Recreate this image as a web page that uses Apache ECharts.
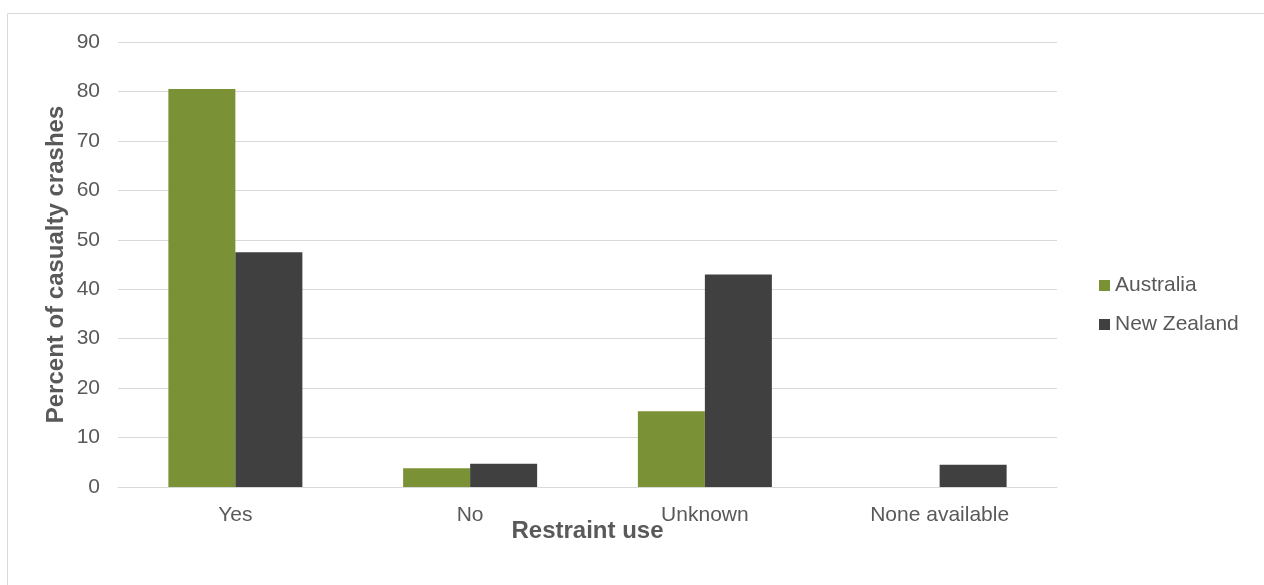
<!DOCTYPE html>
<html>
<head>
<meta charset="utf-8">
<script src="https://cdn.jsdelivr.net/npm/echarts@6/dist/echarts.min.js"></script>
<style>
  html, body { margin: 0; padding: 0; background: #fff; }
  #chart { width: 1264px; height: 585px; }
</style>
</head>
<body>
<div id="chart"></div>
<script>
// Restraint use among casualty crashes, by country
const categories = ['Yes', 'No', 'Unknown', 'None available'];
const australia = [80.5, 3.8, 15.3, null];
const newZealand = [47.5, 4.7, 43.0, 4.5];
const yTicks = { min: 0, max: 90, interval: 10 };

const chart = echarts.init(document.getElementById('chart'));
const font = 'Liberation Sans, Arial, sans-serif';
const labelColor = '#595959';

chart.setOption({
  animation: false,
  textStyle: { fontFamily: font },
  graphic: [{
    type: 'rect',
    shape: { x: 7.5, y: 13.5, width: 1300, height: 620 },
    style: { fill: 'none', stroke: '#d9d9d9', lineWidth: 1 },
    silent: true
  }],
  grid: { left: 118, right: 207, top: 42, bottom: 98, containLabel: false },
  legend: {
    orient: 'vertical',
    left: 1094,
    top: 270,
    itemWidth: 11,
    itemHeight: 11,
    itemGap: 18,
    icon: 'rect',
    textStyle: { fontSize: 21, color: labelColor, fontFamily: font },
    data: ['Australia', 'New Zealand']
  },
  xAxis: {
    type: 'category',
    data: categories,
    name: 'Restraint use',
    nameLocation: 'middle',
    nameGap: 32,
    nameMoveOverlap: false,
    nameTextStyle: { fontSize: 24, fontWeight: 'bold', color: labelColor, fontFamily: font },
    axisLine: { lineStyle: { color: '#d9d9d9', width: 1 } },
    axisTick: { show: false },
    axisLabel: { fontSize: 21, color: labelColor, margin: 18, fontFamily: font }
  },
  yAxis: {
    type: 'value',
    min: yTicks.min,
    max: yTicks.max,
    interval: yTicks.interval,
    name: 'Percent of casualty crashes',
    nameLocation: 'middle',
    nameGap: 50,
    nameMoveOverlap: false,
    nameRotate: 90,
    nameTextStyle: { fontSize: 24, fontWeight: 'bold', color: labelColor, fontFamily: font },
    axisLine: { show: false },
    axisTick: { show: false },
    axisLabel: { fontSize: 21, color: labelColor, margin: 18, fontFamily: font },
    splitLine: { lineStyle: { color: '#d9d9d9', width: 1 } }
  },
  series: [
    {
      name: 'Australia',
      type: 'bar',
      data: australia,
      barWidth: 67,
      barGap: '0%',
      itemStyle: { color: '#7b9135' }
    },
    {
      name: 'New Zealand',
      type: 'bar',
      data: newZealand,
      barWidth: 67,
      barGap: '0%',
      itemStyle: { color: '#404040' }
    }
  ]
});
</script>
</body>
</html>
